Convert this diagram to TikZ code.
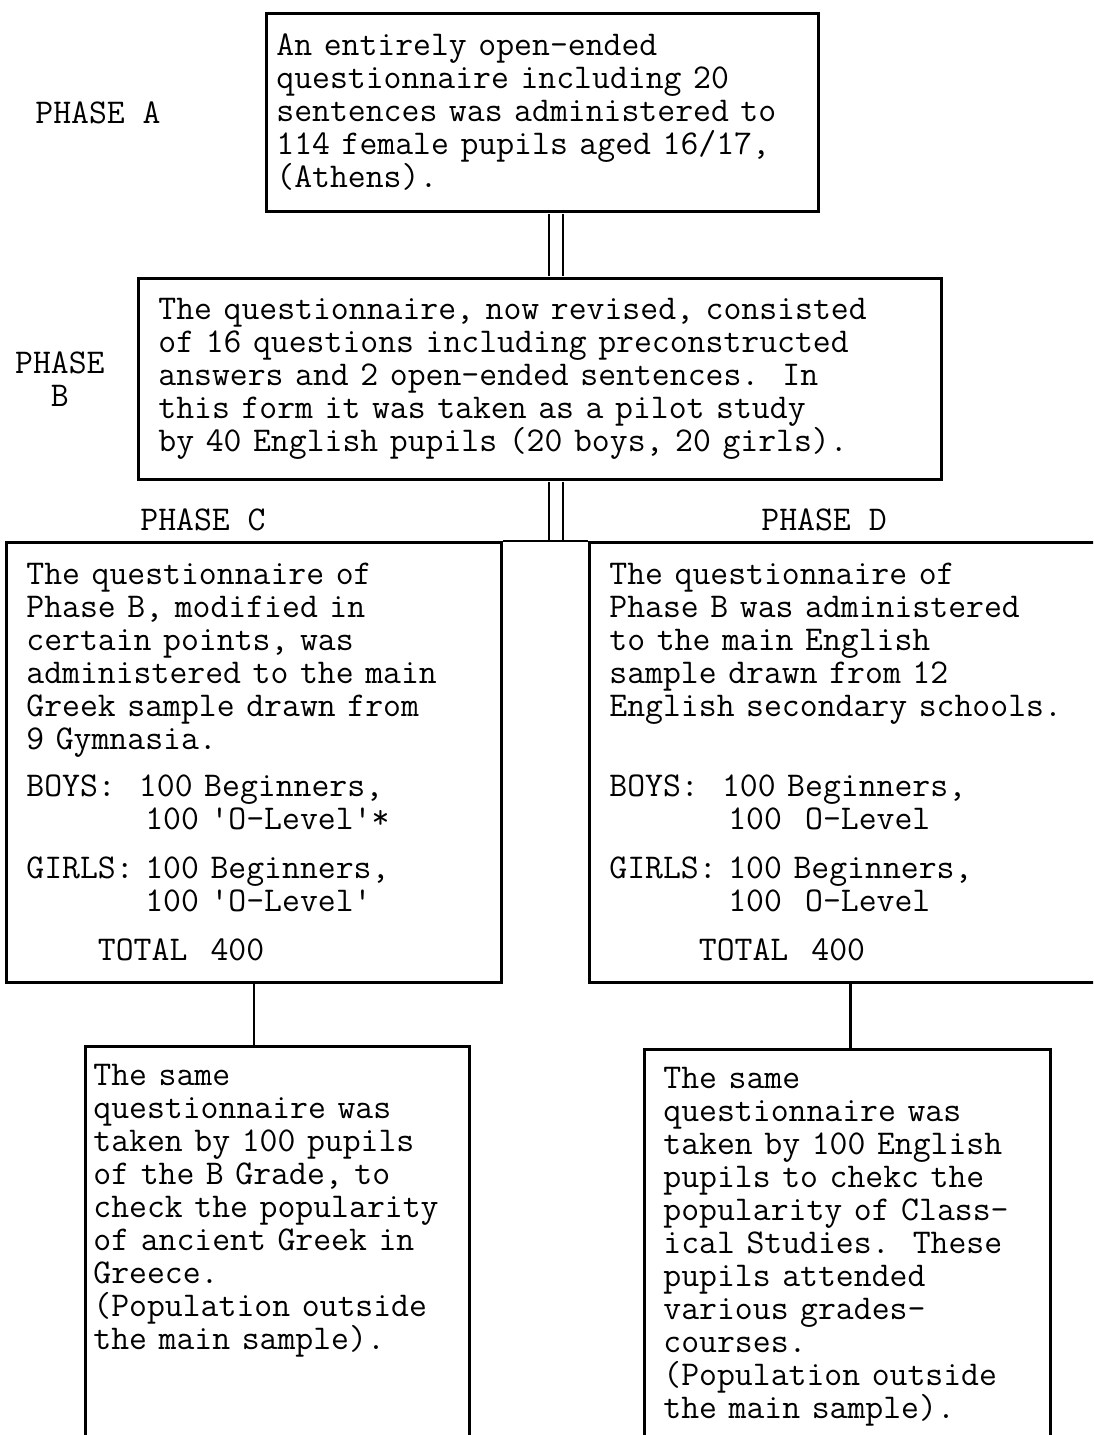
\documentclass[tikz,border=0pt]{standalone}
\usepackage{fontspec}
\usetikzlibrary{positioning}

\tikzset{
  stage/.style={draw, line width=1.4pt, rectangle, align=left, anchor=north west, inner xsep=10pt, inner ysep=0pt},
  subsample/.style={stage, inner ysep=9pt, text height=10.6pt, text depth=250pt},
  phase/.style={inner sep=0pt, align=center},
  link/.style={line width=1.1pt},
  twolink/.style={line width=1.1pt, double, double distance=6pt, shorten <=0.7pt, shorten >=0.7pt}
}
\newcommand{\tq}{\textquotesingle}

\begin{document}
\begin{tikzpicture}[x=0.5pt, y=-0.5pt, font=\ttfamily\fontsize{17.37pt}{16.5pt}\selectfont]
\useasboundingbox (0,0) rectangle (1093,1435);
\fill[white] (0,0) rectangle (1093,1435);
\clip (0,0) rectangle (1093,1435);

\node[stage, text width=266pt, inner xsep=5pt, minimum height=99pt] (phaseA) at (265,12)
  {An entirely open-ended\\
   questionnaire including 20\\
   sentences was administered to\\
   114 female pupils aged 16/17,\\
   (Athens).};
\node[stage, text width=381.5pt, minimum height=100.5pt] (phaseB) at (137,277)
  {The questionnaire, now revised, consisted\\
   of 16 questions including preconstructed\\
   answers and 2 open-ended sentences.~~In\\
   this form it was taken as a pilot study\\
   by 40 English pupils (20 boys, 20 girls).};
\node[stage, text width=227.5pt, minimum height=220pt] (phaseC) at (5,541)
  {The questionnaire of\\
   Phase B, modified in\\
   certain points, was\\
   administered to the main\\
   Greek sample drawn from\\
   9 Gymnasia.\\[7pt]
   BOYS:~~100 Beginners,\\
   \phantom{GIRLS:~}100 \tq O-Level\tq\raisebox{0.12ex}{*}\\[8pt]
   GIRLS:~100 Beginners,\\
   \phantom{GIRLS:~}100 \tq O-Level\tq\\[8pt]
   \phantom{0000}TOTAL~~400};
\node[stage, text width=241pt, minimum height=220pt] (phaseD) at (588,541)
  {The questionnaire of\\
   Phase B was administered\\
   to the main English\\
   sample drawn from 12\\
   English secondary schools.\\
   \mbox{}\\[7pt]
   BOYS:~~100 Beginners,\\
   \phantom{GIRLS:~}100~~O-Level\\[8pt]
   GIRLS:~100 Beginners,\\
   \phantom{GIRLS:~}100~~O-Level\\[8pt]
   \phantom{00000}TOTAL~~400};

% outside the main sample
\node[subsample, text width=184pt, inner xsep=4pt] (sameGreek) at (84,1045)
  {The same\\
   questionnaire was\\
   taken by 100 pupils\\
   of the B Grade, to\\
   check the popularity\\
   of ancient Greek in\\
   Greece.\\
   (Population outside\\
   the main sample).};
\node[subsample, text width=184pt, inner xsep=9.5pt] (sameEnglish) at (643,1048)
  {The same\\
   questionnaire was\\
   taken by 100 English\\
   pupils to chekc the\\
   popularity of Class-\\
   ical Studies.~~These\\
   pupils attended\\
   various grades-\\
   courses.\\
   (Population outside\\
   the main sample).};

% phase labels
\node[phase, left=52pt of phaseA] (labelA) {PHASE A};
\node[phase, left=16pt of phaseB] (labelB) {PHASE\\B};
\node[phase, anchor=south west, above right=5pt and 67.5pt of phaseC.north west] (labelC) {PHASE C};
\node[phase, anchor=south west, above right=5pt and 86.5pt of phaseD.north west] (labelD) {PHASE D};

% double lines down the middle
\coordinate (spine) at (556,0);
\draw[twolink] (phaseA.south -| spine) -- (phaseB.north -| spine);
\draw[twolink] (phaseB.south -| spine) -- (phaseC.north -| spine);
\draw[line width=1.4pt] (phaseC.north east) -- (phaseD.north west);

% single lines to the extra samples
\draw[link] (phaseC.south) -- (phaseC.south |- sameGreek.north);
\draw[link] (phaseD.south) -- (phaseD.south |- sameEnglish.north);
\end{tikzpicture}
\end{document}
